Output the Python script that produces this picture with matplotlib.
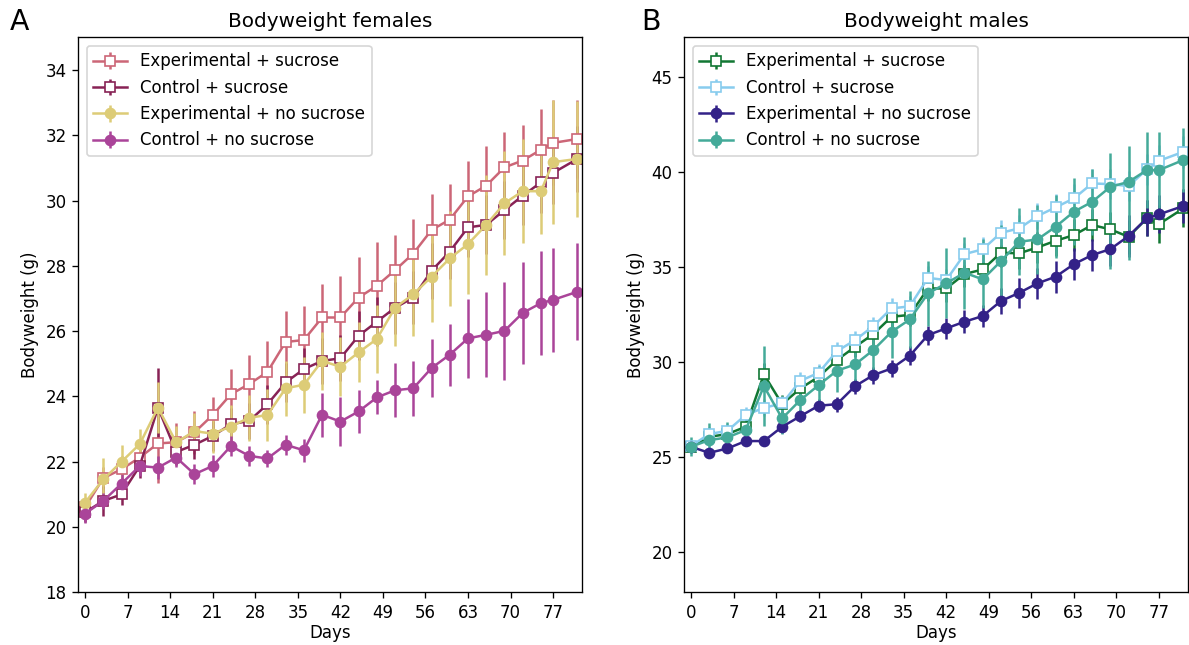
import matplotlib
matplotlib.use("Agg")
import matplotlib.pyplot as plt

# measurement days
days = [0, 3, 6, 9, 12, 15, 18, 21, 24, 27, 30, 33, 36, 39, 42, 45, 48, 51,
        54, 57, 60, 63, 66, 69, 72, 75, 77, 81]

# females
f_exp_suc = [20.6, 21.5, 21.77, 22.13, 22.56, 22.6, 22.9, 23.43, 24.07, 24.38, 24.75, 25.67, 25.73, 26.42,
             26.42, 27.03, 27.39, 27.87, 28.38, 29.1, 29.42, 30.13, 30.46, 31.02, 31.23, 31.56, 31.77, 31.89]
f_exp_suc_err = [0.3, 0.35, 0.4, 0.45, 1.2, 0.6, 0.66, 0.55, 0.77, 0.9, 0.95, 0.96, 1.05, 1.03,
                 1.28, 1.25, 1.33, 1.09, 1.06, 1.1, 1.1, 1.07, 1.2, 1.08, 1.1, 1.25, 1.3, 1.2]
f_ctl_suc = [20.45, 20.8, 21.0, 21.87, 23.66, 22.3, 22.52, 22.79, 23.15, 23.25, 23.76, 24.43, 24.84, 25.09,
             25.17, 25.86, 26.29, 26.72, 27.03, 27.85, 28.44, 29.18, 29.26, 29.71, 30.15, 30.56, 30.85, 31.28]
f_ctl_suc_err = [0.3, 0.46, 0.33, 0.36, 1.2, 0.4, 0.44, 0.45, 0.5, 0.55, 0.6, 0.6, 0.65, 0.7,
                 0.7, 0.75, 0.75, 0.8, 0.8, 0.85, 0.85, 0.9, 0.9, 0.9, 0.9, 0.95, 0.95, 1.0]
f_exp_nosuc = [20.75, 21.46, 22.0, 22.54, 23.66, 22.59, 22.94, 22.86, 23.08, 23.35, 23.43, 24.25, 24.36, 25.09,
               24.91, 25.35, 25.76, 26.72, 27.13, 27.67, 28.23, 28.67, 29.26, 29.92, 30.29, 30.29, 31.18, 31.28]
f_exp_nosuc_err = [0.3, 0.65, 0.5, 0.46, 0.77, 0.5, 0.55, 0.6, 0.65, 0.7, 0.8, 0.85, 0.86, 0.9,
                   0.9, 0.92, 1.03, 1.17, 1.27, 1.4, 1.45, 1.53, 1.53, 1.6, 1.6, 1.3, 1.9, 1.78]
f_ctl_nosuc = [20.41, 20.8, 21.33, 21.87, 21.82, 22.13, 21.62, 21.87, 22.48, 22.18, 22.1, 22.52, 22.35, 23.44,
               23.23, 23.54, 23.97, 24.19, 24.25, 24.87, 25.28, 25.78, 25.89, 26.01, 26.56, 26.86, 26.96, 27.21]
f_ctl_nosuc_err = [0.3, 0.25, 0.3, 0.3, 0.35, 0.3, 0.3, 0.35, 0.3, 0.3, 0.25, 0.3, 0.35, 0.67,
                   0.75, 0.67, 0.52, 0.83, 0.85, 0.9, 0.95, 1.2, 1.3, 1.5, 1.57, 1.6, 1.6, 1.48]

# males
m_exp_suc = [25.56, 26.08, 26.23, 26.61, 29.37, 27.8, 28.63, 29.24, 30.12, 30.82, 31.49, 32.4, 32.5, 33.89,
             33.89, 34.65, 34.89, 35.77, 35.74, 36.05, 36.4, 36.7, 37.23, 37.0, 36.61, 37.58, 37.28, 38.1]
m_exp_suc_err = [0.3, 0.3, 0.35, 0.4, 0.6, 0.5, 0.5, 0.5, 0.55, 0.55, 0.6, 0.6, 0.6, 0.65,
                 0.7, 0.7, 0.75, 0.75, 0.8, 0.8, 0.8, 0.85, 0.85, 0.9, 0.9, 0.95, 1.0, 1.0]
m_ctl_suc = [25.6, 26.23, 26.4, 27.23, 27.61, 27.84, 29.03, 29.45, 30.59, 31.17, 31.91, 32.84, 32.95, 34.45,
             34.33, 35.7, 35.95, 36.82, 37.05, 37.7, 38.16, 38.63, 39.42, 39.38, 39.28, 40.16, 40.61, 41.08]
m_ctl_suc_err = [0.3, 0.35, 0.35, 0.4, 0.45, 0.4, 0.45, 0.45, 0.5, 0.5, 0.5, 0.55, 0.55, 0.6,
                 0.6, 0.6, 0.65, 0.65, 0.7, 0.7, 0.7, 0.75, 0.75, 0.8, 0.8, 0.8, 0.85, 0.85]
m_exp_nosuc = [25.56, 25.24, 25.47, 25.86, 25.86, 26.61, 27.17, 27.72, 27.8, 28.75, 29.33, 29.68, 30.35, 31.44,
               31.79, 32.14, 32.44, 33.23, 33.66, 34.16, 34.51, 35.17, 35.65, 35.96, 36.65, 37.58, 37.79, 38.23]
m_exp_nosuc_err = [0.2, 0.2, 0.25, 0.25, 0.25, 0.3, 0.3, 0.35, 0.4, 0.4, 0.45, 0.45, 0.5, 0.5,
                   0.55, 0.6, 0.6, 0.7, 0.8, 0.8, 0.85, 0.85, 0.85, 0.9, 1.1, 0.95, 1.0, 0.9]
m_ctl_nosuc = [25.56, 25.91, 26.05, 26.44, 28.75, 27.05, 28.02, 28.8, 29.56, 29.89, 30.65, 31.61, 32.26, 33.63,
               34.16, 34.72, 34.37, 35.33, 36.35, 36.47, 37.14, 37.93, 38.45, 39.24, 39.5, 40.12, 40.12, 40.65]
# this group's bars are not symmetric around the mean
m_ctl_nosuc_err_low = [0.5, 0.9, 0.8, 0.6, 2.1, 0.8, 0.9, 1.0, 1.1, 1.2, 1.3, 1.4, 1.5, 1.7,
                       1.84, 1.9, 1.5, 1.9, 1.75, 1.8, 1.67, 1.75, 1.75, 4.3, 4.1, 2.0, 2.0, 1.7]
m_ctl_nosuc_err_high = [0.5, 0.9, 0.8, 0.6, 2.1, 0.8, 0.9, 1.0, 1.1, 1.2, 1.3, 1.4, 1.5, 1.7,
                        1.84, 1.9, 2.1, 1.9, 1.75, 1.8, 1.67, 1.75, 1.75, 1.8, 1.9, 2.0, 2.0, 1.7]

labels = ["Experimental + sucrose", "Control + sucrose",
          "Experimental + no sucrose", "Control + no sucrose"]
female_colors = ["#CC6677", "#882255", "#DDCC77", "#AA4499"]
male_colors = ["#117733", "#88CCEE", "#332288", "#44AA99"]

females = [(f_exp_suc, f_exp_suc_err), (f_ctl_suc, f_ctl_suc_err),
           (f_exp_nosuc, f_exp_nosuc_err), (f_ctl_nosuc, f_ctl_nosuc_err)]
males = [(m_exp_suc, m_exp_suc_err), (m_ctl_suc, m_ctl_suc_err),
         (m_exp_nosuc, m_exp_nosuc_err),
         (m_ctl_nosuc, [m_ctl_nosuc_err_low, m_ctl_nosuc_err_high])]


def draw_panel(ax, groups, colors, title):
    for i, ((vals, err), col) in enumerate(zip(groups, colors)):
        if i < 2:
            # sucrose groups: open squares
            ax.errorbar(days, vals, yerr=err, color=col, marker="s",
                        markerfacecolor="white", markeredgecolor=col, label=labels[i])
        else:
            ax.errorbar(days, vals, yerr=err, color=col, marker="o", label=labels[i])
    ax.set_title(title)
    ax.set_xlabel("Days", labelpad=1.5)
    ax.set_ylabel("Bodyweight (g)")
    ax.set_xticks(range(0, 78, 7))
    ax.set_xlim(-1.1, 81.8)
    ax.legend(loc="upper left")


fig = plt.figure(figsize=(1189 / 120, 645 / 120), dpi=120)
ax1 = fig.add_axes([0.0659, 0.0817, 0.4238, 0.8602])
ax2 = fig.add_axes([0.5755, 0.0817, 0.4238, 0.8602])

draw_panel(ax1, females, female_colors, "Bodyweight females")
ax1.set_ylim(18, 35)
ax1.set_yticks(range(18, 35, 2))

draw_panel(ax2, males, male_colors, "Bodyweight males")
ax2.set_ylim(17.9, 47.1)
ax2.set_yticks(range(20, 46, 5))

fig.text(0.008, 0.966, "A", fontsize=17, va="center")
fig.text(0.539, 0.966, "B", fontsize=17, va="center")

fig.savefig("out.png", dpi=120)
